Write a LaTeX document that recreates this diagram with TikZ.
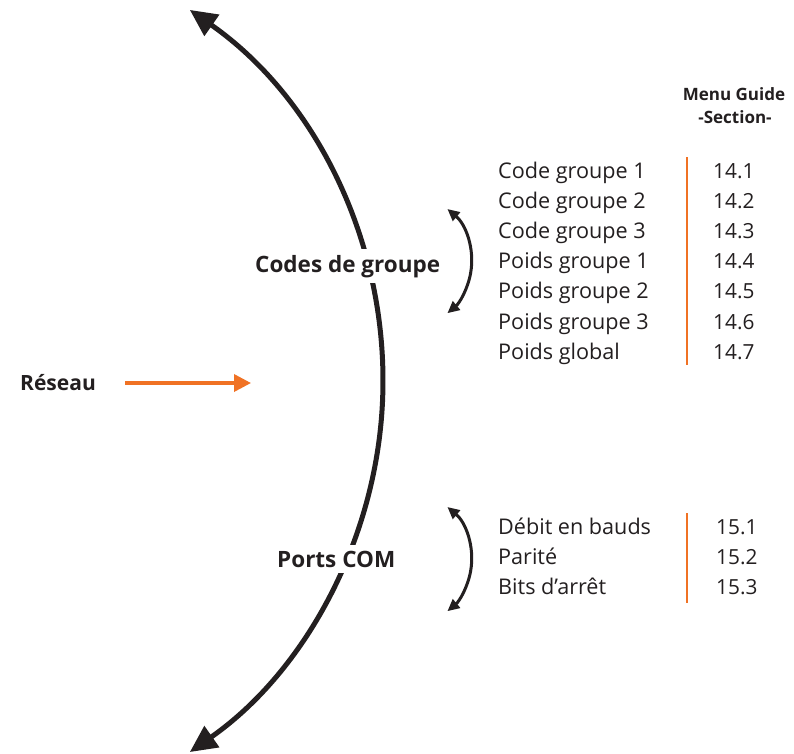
\documentclass[tikz,border=0pt]{standalone}
\usepackage{fontspec}
\setmainfont{Open Sans}
\usetikzlibrary{arrows.meta}
\definecolor{ink}{RGB}{35,31,32}
\definecolor{org}{RGB}{240,114,36}
\begin{document}
\begin{tikzpicture}[x=1pt,y=-1pt,
  item/.style={font=\fontsize{21.6}{24}\selectfont, text=ink, inner sep=0pt, anchor=base west},
  num/.style={font=\fontsize{20.8}{24}\selectfont, text=ink, inner sep=0pt, anchor=base west},
  head/.style={font=\bfseries\fontsize{22.5}{28}\selectfont, text=ink, fill=white, inner xsep=4pt, inner ysep=6pt, anchor=base west},
  side/.style={font=\bfseries\fontsize{21}{24}\selectfont, text=ink, inner sep=0pt, anchor=base west},
  hdr/.style={font=\bfseries\fontsize{17}{20}\selectfont, text=ink, inner sep=0pt, anchor=base},
  bigarc/.style={draw=ink, line width=5pt, {Triangle[length=27pt,width=25pt]}-{Triangle[length=27pt,width=25pt]}},
  smallarc/.style={draw=ink, line width=3pt, {Triangle[length=12pt,width=11pt]}-{Triangle[length=12pt,width=11pt]}},
  sep/.style={draw=org, line width=2.5pt},
  feed/.style={draw=org, line width=3.5pt, -{Triangle[length=17pt,width=17pt]}}
]
\useasboundingbox (0,0) rectangle (794,753);
\fill[white] (0,0) rectangle (794,753);

% big arc
\coordinate (btop) at (189.8,9.9);
\draw[bigarc] (btop) arc[start angle=-55, end angle=55, radius=453];

% small arcs
\coordinate (s1top) at (447.4,209);
\draw[smallarc] (s1top) arc[start angle=-50, end angle=50, radius=68];
\coordinate (s2top) at (447.4,507);
\draw[smallarc] (s2top) arc[start angle=-50, end angle=50, radius=68];

% labels on arc
\node[head] (codes) at (251,272) {Codes de groupe};
\node[head] (ports) at (273,567) {Ports COM};

% Reseau
\node[side] (reseau) at (20,390) {Réseau};
\coordinate (fstart) at (125,383);
\coordinate (fend) at (251,383);
\draw[feed] (fstart) -- (fend);

% header
\node[hdr] (h1) at (734,100) {Menu Guide};
\node[hdr] (h2) at (735,123) {-Section-};

% list 1
\node[item] (a1) at (498,178) {Code groupe 1};
\node[item] (a2) at (498,208.2) {Code groupe 2};
\node[item] (a3) at (498,238.4) {Code groupe 3};
\node[item] (a4) at (498,268.6) {Poids groupe 1};
\node[item] (a5) at (498,298.8) {Poids groupe 2};
\node[item] (a6) at (498,329) {Poids groupe 3};
\node[item] (a7) at (498,359.2) {Poids global};
\node[num] (n1) at (713,178) {14.1};
\node[num] (n2) at (713,208.2) {14.2};
\node[num] (n3) at (713,238.4) {14.3};
\node[num] (n4) at (713,268.6) {14.4};
\node[num] (n5) at (713,298.8) {14.5};
\node[num] (n6) at (713,329) {14.6};
\node[num] (n7) at (713,359.2) {14.7};
\coordinate (l1a) at (687,157);
\coordinate (l1b) at (687,365);
\draw[sep] (l1a) -- (l1b);

% list 2
\node[item] (b1) at (498,534) {Débit en bauds};
\node[item] (b2) at (498,564) {Parité};
\node[item] (b3) at (498,594) {Bits d’arrêt};
\node[num] (m1) at (716,534) {15.1};
\node[num] (m2) at (716,564) {15.2};
\node[num] (m3) at (716,594) {15.3};
\coordinate (l2a) at (687,513);
\coordinate (l2b) at (687,603);
\draw[sep] (l2a) -- (l2b);
\end{tikzpicture}
\end{document}
